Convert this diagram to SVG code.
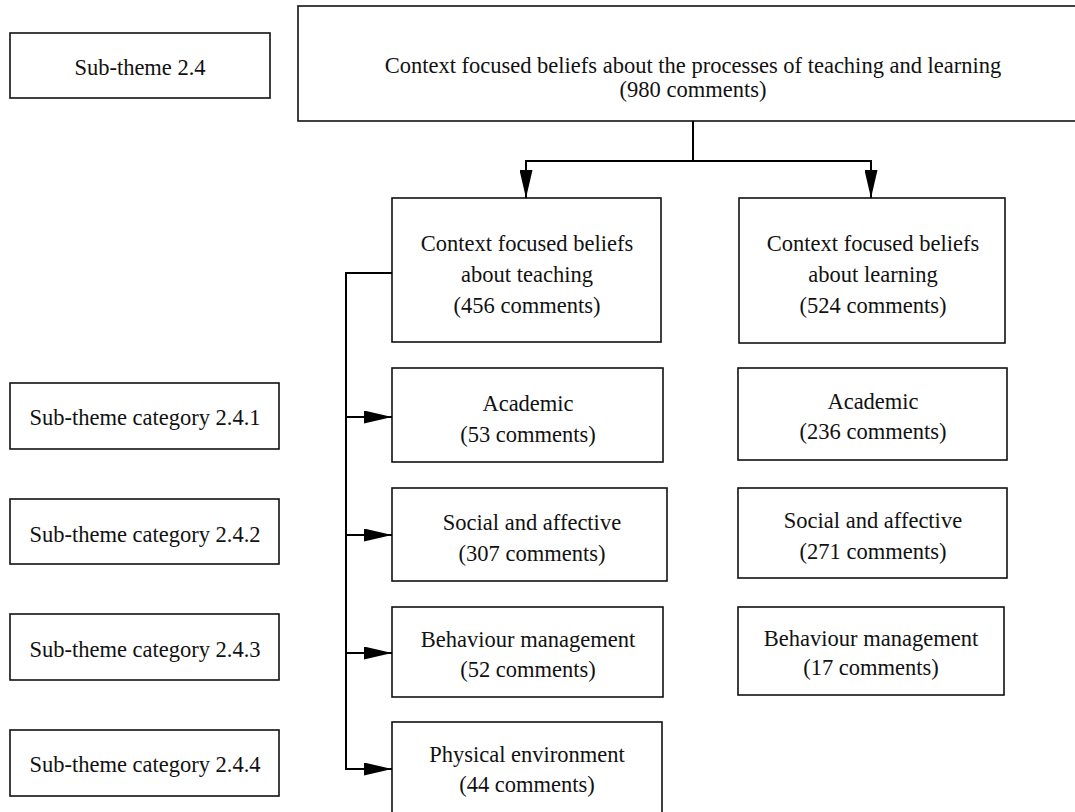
<svg xmlns="http://www.w3.org/2000/svg" width="1075" height="812" viewBox="0 0 1075 812">
  <style>
    .box { fill: #ffffff; stroke: #111111; stroke-width: 1.6; }
    .lbl { font-family: "Liberation Serif", "Times New Roman", serif; font-size: 22.5px; fill: #111111; text-anchor: middle; }
    .wire { fill: none; stroke: #000000; stroke-width: 2; }
  </style>
  <defs>
    <marker id="head" markerUnits="userSpaceOnUse" markerWidth="28" markerHeight="13" refX="28" refY="6.5" orient="auto">
      <path d="M0,0 L28,6.5 L0,13 Z" fill="#000000"/>
    </marker>
  </defs>

  <rect width="1075" height="812" fill="#ffffff"/>

  <!-- level labels -->
  <g id="subtheme">
    <rect class="box" x="10" y="33" width="260" height="65"/>
    <text class="lbl" x="140" y="75">Sub-theme 2.4</text>
  </g>
  <g id="category-1">
    <rect class="box" x="10" y="383" width="269" height="66"/>
    <text class="lbl" x="145" y="425">Sub-theme category 2.4.1</text>
  </g>
  <g id="category-2">
    <rect class="box" x="10" y="499" width="269" height="65"/>
    <text class="lbl" x="145" y="542">Sub-theme category 2.4.2</text>
  </g>
  <g id="category-3">
    <rect class="box" x="10" y="614" width="269" height="66"/>
    <text class="lbl" x="145" y="657">Sub-theme category 2.4.3</text>
  </g>
  <g id="category-4">
    <rect class="box" x="10" y="730" width="269" height="66"/>
    <text class="lbl" x="145" y="772">Sub-theme category 2.4.4</text>
  </g>

  <!-- theme root -->
  <g id="root">
    <rect class="box" x="298" y="6" width="790" height="115"/>
    <text class="lbl" x="693" y="73">Context focused beliefs about the processes of teaching and learning</text>
    <text class="lbl" x="693" y="97">(980 comments)</text>
  </g>

  <!-- teaching branch -->
  <g id="teaching">
    <rect class="box" x="392" y="198" width="269" height="144"/>
    <text class="lbl" x="527" y="251">Context focused beliefs</text>
    <text class="lbl" x="527" y="282">about teaching</text>
    <text class="lbl" x="527" y="313">(456 comments)</text>
  </g>
  <g id="teaching-academic">
    <rect class="box" x="392" y="368" width="271" height="94"/>
    <text class="lbl" x="528" y="411">Academic</text>
    <text class="lbl" x="528" y="442">(53 comments)</text>
  </g>
  <g id="teaching-social">
    <rect class="box" x="392" y="488" width="275" height="93"/>
    <text class="lbl" x="532" y="530">Social and affective</text>
    <text class="lbl" x="532" y="561">(307 comments)</text>
  </g>
  <g id="teaching-behaviour">
    <rect class="box" x="392" y="607" width="271" height="90"/>
    <text class="lbl" x="528" y="647">Behaviour management</text>
    <text class="lbl" x="528" y="677">(52 comments)</text>
  </g>
  <g id="teaching-physical">
    <rect class="box" x="392" y="722" width="270" height="100"/>
    <text class="lbl" x="527" y="762">Physical environment</text>
    <text class="lbl" x="527" y="792">(44 comments)</text>
  </g>

  <!-- learning branch -->
  <g id="learning">
    <rect class="box" x="739" y="198" width="266" height="145"/>
    <text class="lbl" x="873" y="251">Context focused beliefs</text>
    <text class="lbl" x="873" y="282">about learning</text>
    <text class="lbl" x="873" y="313">(524 comments)</text>
  </g>
  <g id="learning-academic">
    <rect class="box" x="738" y="368" width="269" height="92"/>
    <text class="lbl" x="873" y="409">Academic</text>
    <text class="lbl" x="873" y="439">(236 comments)</text>
  </g>
  <g id="learning-social">
    <rect class="box" x="738" y="488" width="269" height="90"/>
    <text class="lbl" x="873" y="528">Social and affective</text>
    <text class="lbl" x="873" y="559">(271 comments)</text>
  </g>
  <g id="learning-behaviour">
    <rect class="box" x="738" y="607" width="266" height="88"/>
    <text class="lbl" x="871" y="646">Behaviour management</text>
    <text class="lbl" x="871" y="675">(17 comments)</text>
  </g>

  <!-- connectors -->
  <g id="connectors">
    <path class="wire" d="M693,121 V161 H526 V198" marker-end="url(#head)"/>
    <path class="wire" d="M693,161 H871 V198" marker-end="url(#head)"/>
    <path class="wire" d="M392,273 H346 V769 H392" marker-end="url(#head)"/>
    <path class="wire" d="M346,417 H392" marker-end="url(#head)"/>
    <path class="wire" d="M346,535 H392" marker-end="url(#head)"/>
    <path class="wire" d="M346,653 H392" marker-end="url(#head)"/>
  </g>
</svg>
